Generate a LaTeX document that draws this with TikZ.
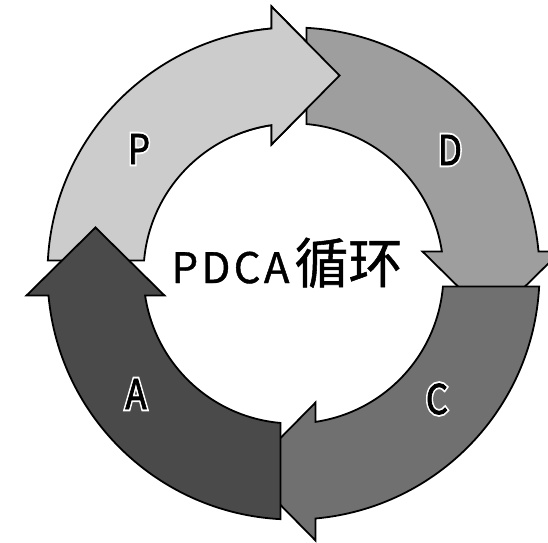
\documentclass[tikz,border=0pt]{standalone}
\usepackage{fontspec}
\setmainfont{Noto Sans CJK SC}
\newfontfamily\halofont[FakeBold=11]{Noto Sans CJK SC}
\newfontfamily\heavyfont[FakeBold=2]{Noto Sans CJK SC}
\newfontfamily\titlefont[FakeBold=1]{Noto Sans CJK SC}
\definecolor{pfill}{gray}{0.80}
\definecolor{dfill}{gray}{0.62}
\definecolor{cfill}{gray}{0.44}
\definecolor{afill}{gray}{0.29}
\tikzset{
  ring/.style={draw=black,line width=1.8pt,line join=miter},
  lbl/.style={inner sep=0pt,font=\fontsize{41}{41}\selectfont},
  title/.style={inner sep=0pt,anchor=base,font=\titlefont}
}
\newcommand\halo[1]{\scalebox{0.85}[1]{\rlap{\halofont\color{white}#1}{\heavyfont#1}}}
\newcommand\arcarrow[2]{%
  \filldraw[ring,fill=#1,rotate=#2] (176.97:246)
    arc[start angle=176.97,end angle=95.13,radius=246]
    -- (-22,267) -- (46,198) -- (-22,129) -- (98.43:150)
    arc[start angle=98.43,end angle=175.03,radius=150] -- cycle;}

\begin{document}
\begin{tikzpicture}[x=1pt,y=1pt]
\useasboundingbox (-293.5,-268.5) rectangle (254.5,273.5);
\arcarrow{pfill}{0}
\arcarrow{dfill}{-90}
\arcarrow{cfill}{-180}
\arcarrow{afill}{-270}
% P head lies over the tail of D
\begin{scope}
\clip (-60,90) rectangle (120,290);
\arcarrow{pfill}{0}
\end{scope}
\node[lbl] (p) at (-154.5,124.5) {\halo{P}};
\node[lbl] (d) at (156.5,123.5) {\halo{D}};
\node[lbl] (c) at (143.5,-125.5) {\halo{C}};
\node[lbl] (a) at (-157.5,-120.5) {\halo{A}};
\node[title] (t) at (-6.5,-9.5) {{\fontsize{42}{42}\selectfont\addfontfeature{LetterSpace=8}PDCA}\kern5pt\fontsize{54}{54}\selectfont 循环};
\end{tikzpicture}
\end{document}
